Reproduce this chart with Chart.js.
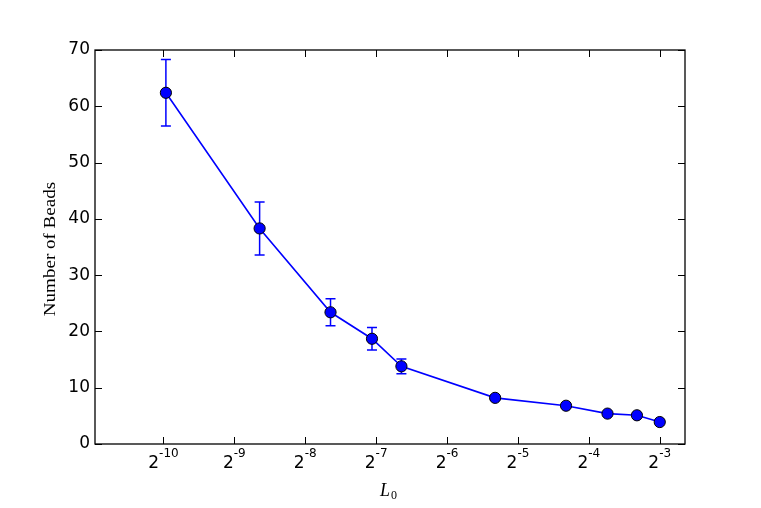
<!DOCTYPE html>
<html>
<head>
<meta charset="utf-8">
<script src="https://cdn.jsdelivr.net/npm/chart.js@4/dist/chart.umd.min.js"></script>
<style>
  html, body { margin: 0; padding: 0; background: #fff; }
  #wrap { width: 761px; height: 508px; }
</style>
</head>
<body>
<div id="wrap"><canvas id="chart" width="761" height="508"></canvas></div>
<script>
// Data
const l0Values = [0.001, 0.0025, 0.005, 0.0075, 0.01, 0.025, 0.05, 0.075, 0.1, 0.125];
const beadCounts = [62.4, 38.3, 23.4, 18.7, 13.8, 8.2, 6.8, 5.4, 5.1, 3.9];
const beadErrors = [5.9, 4.7, 2.4, 2.0, 1.3, 0.4, 0.3, 0.2, 0.2, 0.2];
const xTickExps = [-10, -9, -8, -7, -6, -5, -4, -3];
const yTicks = [0, 10, 20, 30, 40, 50, 60, 70];
const yTitle = 'Number of Beads';
const xTitle = ['L', '0'];

// Error bars, box frame with inward ticks, 2^k tick labels and axis titles
const framePlugin = {
  id: 'frame',
  beforeDatasetsDraw(chart) {
    const ctx = chart.ctx;
    const x = chart.scales.x, y = chart.scales.y;
    ctx.save();
    ctx.strokeStyle = '#0000ff';
    ctx.lineWidth = 1.5;
    l0Values.forEach((v, i) => {
      const px = x.getPixelForValue(v);
      const top = y.getPixelForValue(beadCounts[i] + beadErrors[i]);
      const bot = y.getPixelForValue(beadCounts[i] - beadErrors[i]);
      ctx.beginPath();
      ctx.moveTo(px, top); ctx.lineTo(px, bot);
      ctx.moveTo(px - 5, top); ctx.lineTo(px + 5, top);
      ctx.moveTo(px - 5, bot); ctx.lineTo(px + 5, bot);
      ctx.stroke();
    });
    ctx.restore();
  },
  afterDatasetsDraw(chart) {
    const ctx = chart.ctx;
    const a = chart.chartArea;
    const x = chart.scales.x, y = chart.scales.y;
    ctx.save();
    ctx.strokeStyle = '#000';
    ctx.lineWidth = 1;
    ctx.beginPath();
    xTickExps.forEach(k => {
      const px = Math.round(x.getPixelForValue(Math.pow(2, k))) + 0.5;
      ctx.moveTo(px, a.bottom); ctx.lineTo(px, a.bottom - 7);
      ctx.moveTo(px, a.top); ctx.lineTo(px, a.top + 7);
    });
    yTicks.forEach(t => {
      const py = Math.round(y.getPixelForValue(t)) + 0.5;
      ctx.moveTo(a.left, py); ctx.lineTo(a.left + 7, py);
      ctx.moveTo(a.right, py); ctx.lineTo(a.right - 7, py);
    });
    ctx.stroke();
    ctx.lineWidth = 1.3;
    ctx.strokeRect(a.left, a.top, a.right - a.left, a.bottom - a.top);

    // x tick labels: 2 with a raised exponent
    ctx.fillStyle = '#000';
    ctx.textBaseline = 'alphabetic';
    ctx.textAlign = 'left';
    xTickExps.forEach(k => {
      const px = x.getPixelForValue(Math.pow(2, k));
      ctx.font = '17px "DejaVu Sans"';
      const wBase = ctx.measureText('2').width;
      ctx.font = '12px "DejaVu Sans"';
      const wExp = ctx.measureText(String(k)).width;
      const x0 = px - (wBase + wExp) / 2;
      ctx.font = '17px "DejaVu Sans"';
      ctx.fillText('2', x0, a.bottom + 24);
      ctx.font = '12px "DejaVu Sans"';
      ctx.fillText(String(k), x0 + wBase, a.bottom + 13);
    });

    // x title: italic L with subscript 0
    const cx = (a.left + a.right) / 2;
    ctx.font = 'italic 18px "Liberation Serif"';
    const wL = ctx.measureText(xTitle[0]).width;
    ctx.font = '12px "Liberation Serif"';
    const wS = ctx.measureText(xTitle[1]).width;
    const lx = cx - (wL + wS) / 2 - 2;
    ctx.font = 'italic 18px "Liberation Serif"';
    ctx.fillText(xTitle[0], lx, 496);
    ctx.font = '12px "Liberation Serif"';
    ctx.fillText(xTitle[1], lx + wL + 1, 499);

    // y title, rotated
    ctx.translate(55, (a.top + a.bottom) / 2 + 2);
    ctx.rotate(-Math.PI / 2);
    ctx.scale(1.19, 1);
    ctx.textAlign = 'center';
    ctx.font = '16px "Liberation Serif"';
    ctx.fillText(yTitle, 0, 0);
    ctx.restore();
  }
};

new Chart(document.getElementById('chart'), {
  type: 'line',
  data: {
    datasets: [{
      data: l0Values.map((v, i) => ({ x: v, y: beadCounts[i] })),
      borderColor: '#0000ff',
      borderWidth: 1.6,
      backgroundColor: '#0000ff',
      pointBackgroundColor: '#0000ff',
      pointBorderColor: '#000',
      pointBorderWidth: 1,
      pointRadius: 5.6,
      tension: 0
    }]
  },
  options: {
    responsive: false,
    animation: false,
    layout: { padding: { left: 0, right: 76, top: 50, bottom: 0 } },
    plugins: { legend: { display: false }, tooltip: { enabled: false } },
    scales: {
      x: {
        type: 'logarithmic',
        min: 0.0005,
        max: 0.16,
        afterBuildTicks: s => { s.ticks = xTickExps.map(k => ({ value: Math.pow(2, k) })); },
        afterFit: s => { s.height = 64; },
        grid: { display: false, drawTicks: false },
        border: { display: false },
        ticks: { display: false }
      },
      y: {
        min: 0,
        max: 70,
        afterBuildTicks: s => { s.ticks = yTicks.map(t => ({ value: t })); },
        afterFit: s => { s.width = 95; },
        grid: { display: false, drawTicks: false },
        border: { display: false },
        ticks: {
          padding: 5, color: '#000',
          font: { family: 'DejaVu Sans', size: 17 }
        }
      }
    }
  },
  plugins: [framePlugin]
});
</script>
</body>
</html>
